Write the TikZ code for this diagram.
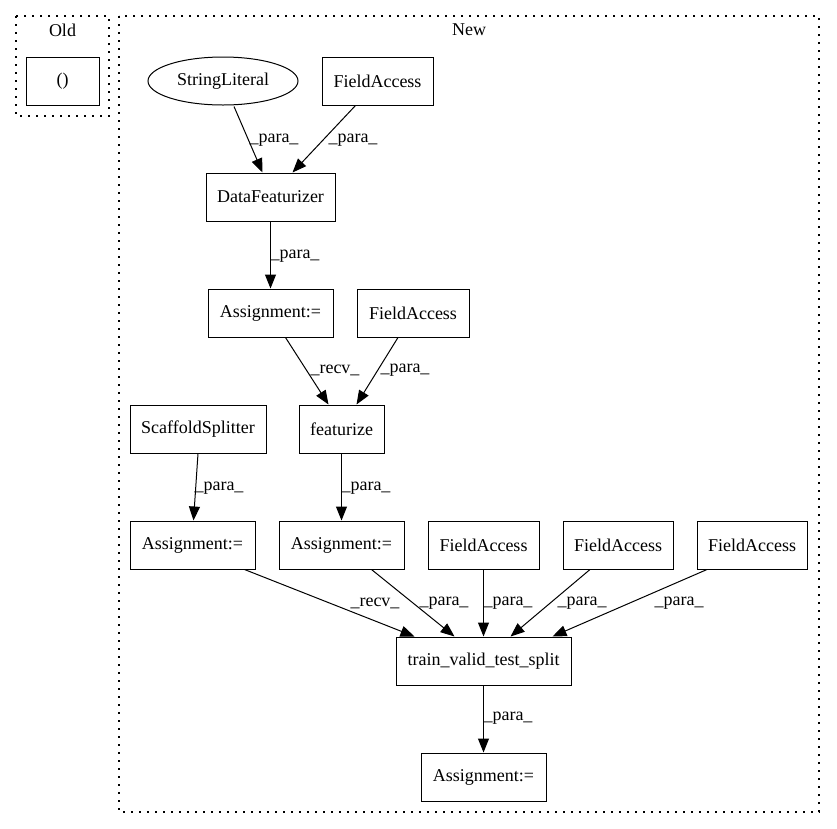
\documentclass[tikz,border=0pt]{standalone}
\usepackage{fontspec}
\setmainfont{Liberation Serif}
\usetikzlibrary{arrows.meta,shapes.geometric}
\begin{document}
\begin{tikzpicture}[x=1pt,y=-1pt,
  every node/.style={font=\fontsize{18}{21}\selectfont},
  box/.style={draw,line width=1pt,inner sep=0pt,minimum height=48pt},
  oval/.style={draw,ellipse,line width=1pt,inner sep=0pt,minimum width=150pt,minimum height=48pt},
  cluster/.style={draw,line width=1.2pt,dash pattern=on 1.6pt off 6.4pt},
  edge/.style={line width=1pt,-{Triangle[length=14pt,width=11pt]}},
  lab/.style={inner sep=0pt}]
\useasboundingbox (0,0) rectangle (837,828);
\draw[cluster] (16,16) rectangle (109,116);
\draw[cluster] (119,16) rectangle (819,812);
\node[lab] (oldt) at (62.5,30) {Old};
\node[lab] (newt) at (469,30) {New};
\node[box,minimum width=73pt] (old) at (62.5,81) {()};
\node[oval] (sl) at (223,81) {StringLiteral};
\node[box,minimum width=111pt] (fa1) at (377.5,81) {FieldAccess};
\node[box,minimum width=129pt] (df) at (270.5,197) {DataFeaturizer};
\node[box,minimum width=125pt] (a1) at (270.5,313) {Assignment:=};
\node[box,minimum width=112pt] (fa2) at (413,313) {FieldAccess};
\node[box,minimum width=85pt] (feat) at (341.5,429) {featurize};
\node[box,minimum width=136pt] (ss) at (198,429) {ScaffoldSplitter};
\node[box,minimum width=125pt] (a2) at (192.5,545) {Assignment:=};
\node[box,minimum width=125pt] (a3) at (341.5,545) {Assignment:=};
\node[box,minimum width=111pt] (fa3) at (483.5,545) {FieldAccess};
\node[box,minimum width=110pt] (fa4) at (618,545) {FieldAccess};
\node[box,minimum width=110pt] (fa5) at (752,545) {FieldAccess};
\node[box,minimum width=175pt] (tvts) at (483.5,661) {train\_valid\_test\_split};
\node[box,minimum width=125pt] (fin) at (483.5,777) {Assignment:=};
% edges
\draw[edge] ([xshift=11pt,yshift=-1pt]sl.south) -- ([xshift=-8pt]df.north);
\draw[edge] ([xshift=-22pt]fa1.south) -- ([xshift=22pt]df.north);
\draw[edge] (df.south) -- (a1.north);
\draw[edge] ([xshift=15pt]a1.south) -- ([xshift=-13pt]feat.north);
\draw[edge] ([xshift=-15pt]fa2.south) -- ([xshift=15pt]feat.north);
\draw[edge] (ss.south) -- ([xshift=1pt]a2.north);
\draw[edge] (feat.south) -- (a3.north);
\draw[edge] ([xshift=52pt]a2.south) -- ([xshift=-69pt]tvts.north);
\draw[edge] ([xshift=30pt]a3.south) -- ([xshift=-29pt]tvts.north);
\draw[edge] (fa3.south) -- (tvts.north);
\draw[edge] ([xshift=-28pt]fa4.south) -- ([xshift=27pt]tvts.north);
\draw[edge] ([xshift=-45pt]fa5.south) -- ([xshift=69pt]tvts.north);
\draw[edge] (tvts.south) -- (fin.north);
% edge labels
\node[lab] (l1) at (274,140) {\_para\_};
\node[lab] (l2) at (353,140) {\_para\_};
\node[lab] (l3) at (295,256) {\_para\_};
\node[lab] (l4) at (335,370) {\_recv\_};
\node[lab] (l5) at (405,370) {\_para\_};
\node[lab] (l6) at (219,488) {\_para\_};
\node[lab] (l7) at (366,488) {\_para\_};
\node[lab] (l8) at (375,603) {\_recv\_};
\node[lab] (l9) at (444,603) {\_para\_};
\node[lab] (l10) at (508,603) {\_para\_};
\node[lab] (l11) at (582,603) {\_para\_};
\node[lab] (l12) at (679,603) {\_para\_};
\node[lab] (l13) at (508,718) {\_para\_};
\end{tikzpicture}
\end{document}
